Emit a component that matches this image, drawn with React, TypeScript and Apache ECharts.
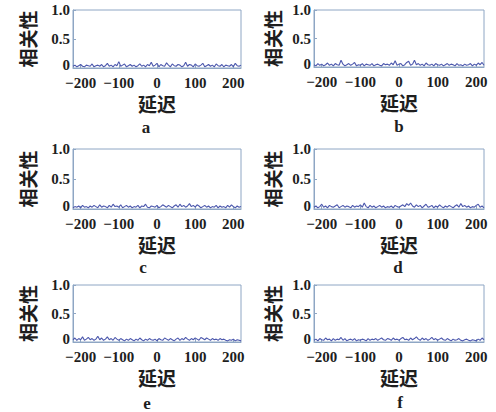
import React, { useEffect, useRef } from "react";
import * as echarts from "echarts";

// Lag axis
const LAG_START = -220;
const LAG_STEP = 5;
const X_TICKS = [-200, -100, 0, 100, 200];
const Y_TICKS = [0, 0.5, 1.0];
const PANEL_LABELS = ["a", "b", "c", "d", "e", "f"];
const X_NAME = "延迟";
const Y_NAME = "相关性";

// Correlation values (every 5 lags from -220 to 220)
const corrA = [
  0.03,0.05,0.02,0.04,0.06,0.03,0.02,0.05,0.04,0.03,
  0.07,0.02,0.04,0.05,0.03,0.06,0.02,0.04,0.08,0.03,
  0.05,0.02,0.06,0.04,0.11,0.03,0.05,0.07,0.02,0.04,
  0.06,0.03,0.05,0.02,0.04,0.07,0.03,0.05,0.02,0.06,
  0.04,0.10,0.03,0.05,0.08,0.02,0.06,0.04,0.03,0.09,
  0.05,0.02,0.07,0.04,0.03,0.06,0.05,0.02,0.04,0.10,
  0.03,0.06,0.05,0.02,0.07,0.04,0.03,0.05,0.08,0.02,
  0.04,0.06,0.03,0.05,0.02,0.07,0.04,0.03,0.06,0.02,
  0.05,0.04,0.03,0.06,0.02,0.08,0.04,0.03,0.05,
];
const corrB = [
  0.04,0.02,0.06,0.03,0.05,0.02,0.04,0.07,0.03,0.05,
  0.02,0.06,0.04,0.03,0.12,0.05,0.02,0.04,0.06,0.03,
  0.05,0.08,0.02,0.04,0.03,0.06,0.02,0.05,0.04,0.03,
  0.06,0.02,0.04,0.05,0.03,0.02,0.06,0.04,0.05,0.03,
  0.07,0.04,0.11,0.03,0.05,0.06,0.02,0.04,0.08,0.10,
  0.03,0.05,0.12,0.04,0.06,0.03,0.05,0.02,0.07,0.04,
  0.03,0.05,0.02,0.06,0.04,0.03,0.05,0.02,0.04,0.06,
  0.03,0.05,0.04,0.02,0.06,0.03,0.04,0.02,0.05,0.03,
  0.04,0.06,0.02,0.05,0.03,0.07,0.04,0.08,0.03,
];
const corrC = [
  0.02,0.04,0.03,0.05,0.02,0.06,0.03,0.04,0.02,0.05,
  0.03,0.06,0.04,0.02,0.07,0.03,0.05,0.04,0.02,0.06,
  0.03,0.08,0.04,0.05,0.03,0.07,0.02,0.04,0.06,0.03,
  0.05,0.02,0.04,0.03,0.06,0.02,0.05,0.04,0.08,0.03,
  0.02,0.05,0.04,0.03,0.06,0.02,0.04,0.07,0.05,0.03,
  0.06,0.04,0.02,0.05,0.07,0.03,0.08,0.04,0.06,0.03,
  0.05,0.09,0.04,0.06,0.03,0.07,0.05,0.02,0.04,0.06,
  0.03,0.05,0.02,0.04,0.03,0.06,0.02,0.05,0.03,0.04,
  0.02,0.06,0.03,0.07,0.04,0.02,0.05,0.03,0.04,
];
const corrD = [
  0.03,0.05,0.02,0.04,0.08,0.03,0.05,0.02,0.06,0.04,
  0.03,0.05,0.07,0.02,0.04,0.06,0.03,0.05,0.04,0.02,
  0.06,0.03,0.05,0.04,0.07,0.03,0.10,0.04,0.02,0.06,
  0.03,0.05,0.02,0.04,0.06,0.03,0.05,0.02,0.04,0.03,
  0.05,0.02,0.06,0.04,0.03,0.05,0.07,0.04,0.09,0.06,
  0.10,0.05,0.03,0.07,0.04,0.06,0.02,0.05,0.08,0.03,
  0.04,0.06,0.02,0.05,0.03,0.07,0.04,0.02,0.05,0.03,
  0.06,0.04,0.02,0.05,0.07,0.03,0.09,0.04,0.06,0.03,
  0.05,0.02,0.04,0.03,0.06,0.08,0.03,0.05,0.02,
];
const corrE = [
  0.04,0.07,0.03,0.06,0.04,0.09,0.03,0.05,0.08,0.04,
  0.06,0.03,0.05,0.10,0.04,0.07,0.03,0.05,0.09,0.04,
  0.06,0.03,0.08,0.05,0.03,0.06,0.04,0.02,0.05,0.03,
  0.06,0.04,0.02,0.05,0.03,0.07,0.04,0.02,0.05,0.03,
  0.06,0.04,0.03,0.05,0.02,0.06,0.04,0.03,0.07,0.05,
  0.03,0.06,0.04,0.02,0.05,0.07,0.03,0.06,0.04,0.08,
  0.05,0.03,0.06,0.04,0.07,0.05,0.03,0.08,0.06,0.04,
  0.07,0.05,0.03,0.06,0.04,0.05,0.03,0.06,0.04,0.05,
  0.03,0.02,0.04,0.03,0.05,0.02,0.04,0.03,0.02,
];
const corrF = [
  0.03,0.05,0.02,0.06,0.04,0.03,0.07,0.04,0.05,0.02,
  0.06,0.03,0.05,0.04,0.08,0.03,0.06,0.02,0.04,0.05,
  0.03,0.06,0.02,0.04,0.03,0.05,0.04,0.02,0.06,0.03,
  0.05,0.04,0.06,0.03,0.05,0.07,0.04,0.03,0.06,0.05,
  0.03,0.07,0.04,0.05,0.03,0.06,0.08,0.04,0.05,0.03,
  0.07,0.04,0.06,0.09,0.05,0.03,0.07,0.04,0.06,0.03,
  0.05,0.08,0.04,0.06,0.03,0.05,0.07,0.04,0.03,0.06,
  0.04,0.02,0.05,0.03,0.04,0.06,0.03,0.02,0.04,0.05,
  0.03,0.02,0.04,0.03,0.02,0.05,0.03,0.07,0.04,
];
const SERIES = [corrA, corrB, corrC, corrD, corrE, corrF];

// Layout of the six panels
const PANELS = [
  { left: 73, top: 10, width: 168, height: 58, yGap: 36, lx: 146, ly: 127 },
  { left: 314, top: 10, width: 170, height: 57, yGap: 32, lx: 399, ly: 126 },
  { left: 73, top: 149, width: 168, height: 60, yGap: 36, lx: 143, ly: 267 },
  { left: 314, top: 149, width: 170, height: 60, yGap: 32, lx: 398, ly: 267 },
  { left: 73, top: 285, width: 168, height: 57, yGap: 36, lx: 147, ly: 403 },
  { left: 314, top: 285, width: 170, height: 57, yGap: 32, lx: 400, ly: 402 },
];

const SERIF = "'Liberation Serif', 'DejaVu Serif', serif";
const CJK = "'Noto Sans CJK SC', sans-serif";
const TEXT = "#1e1e1e";
const FRAME = "#8ea6c4";
const LINE = "#4c58ad";

export default function App() {
  const ref = useRef<HTMLDivElement>(null);
  useEffect(() => {
    document.body.style.margin = "0";
    if (!ref.current) return;
    const chart = echarts.init(ref.current, null, { renderer: "svg" });
    const fmtX = (v: number) => (v < 0 ? "\u2212" + Math.abs(v) : String(v));
    const fmtY = (v: number) => (v === 0 ? "0" : v.toFixed(1));
    chart.setOption({
      animation: false,
      backgroundColor: "#ffffff",
      grid: PANELS.map((p) => ({
        left: p.left,
        top: p.top,
        width: p.width,
        height: p.height,
        show: true,
        borderColor: FRAME,
        borderWidth: 1,
        backgroundColor: "#ffffff",
        containLabel: false,
      })),
      xAxis: PANELS.map((_, i) => ({
        type: "value",
        gridIndex: i,
        min: LAG_START,
        max: -LAG_START,
        axisLine: { show: true, onZero: false, lineStyle: { color: FRAME } },
        axisTick: {
          show: true,
          inside: true,
          length: 3,
          customValues: X_TICKS,
          lineStyle: { color: FRAME },
        },
        axisLabel: {
          customValues: X_TICKS,
          formatter: fmtX,
          color: TEXT,
          fontFamily: SERIF,
          fontWeight: "bold",
          fontSize: 15,
          lineHeight: 13,
          margin: 8,
        },
        splitLine: { show: false },
        name: X_NAME,
        nameLocation: "middle",
        nameGap: 26,
        nameTextStyle: {
          color: TEXT,
          fontFamily: CJK,
          fontWeight: "bold",
          fontSize: 19,
          lineHeight: 19,
        },
      })),
      yAxis: PANELS.map((p, i) => ({
        type: "value",
        gridIndex: i,
        min: 0,
        max: 1,
        interval: 0.5,
        axisLine: { show: true, onZero: false, lineStyle: { color: FRAME } },
        axisTick: {
          show: true,
          inside: true,
          length: 3,
          customValues: Y_TICKS,
          lineStyle: { color: FRAME },
        },
        axisLabel: {
          customValues: Y_TICKS,
          formatter: fmtY,
          color: TEXT,
          fontFamily: SERIF,
          fontWeight: "bold",
          fontSize: 15,
          lineHeight: 6,
          verticalAlignMinLabel: "bottom",
          margin: 3,
        },
        splitLine: { show: false },
        name: Y_NAME,
        nameLocation: "middle",
        nameRotate: 90,
        nameGap: p.yGap,
        nameTextStyle: {
          color: TEXT,
          fontFamily: CJK,
          fontWeight: "bold",
          fontSize: 19,
        },
      })),
      series: SERIES.map((vals, i) => ({
        type: "line",
        xAxisIndex: i,
        yAxisIndex: i,
        showSymbol: false,
        lineStyle: { color: LINE, width: 1.1 },
        data: vals.map((v, k) => [LAG_START + k * LAG_STEP, v]),
      })),
      graphic: PANELS.map((p, i) => ({
        type: "text",
        x: p.lx,
        y: p.ly,
        style: {
          text: PANEL_LABELS[i],
          fill: TEXT,
          font: `bold 17px ${SERIF}`,
          textAlign: "center",
          textVerticalAlign: "middle",
        },
      })),
    });
    return () => chart.dispose();
  }, []);
  return <div ref={ref} style={{ width: 496, height: 412 }} />;
}
